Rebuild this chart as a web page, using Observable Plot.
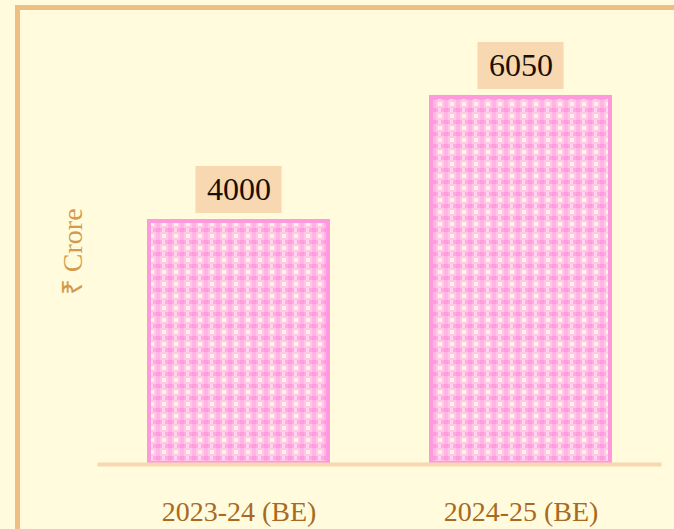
<!DOCTYPE html>
<html>
<head>
<meta charset="utf-8">
<script src="https://cdn.jsdelivr.net/npm/d3@7"></script>
<script src="https://cdn.jsdelivr.net/npm/@observablehq/plot@0.6"></script>
<style>
  html, body { margin: 0; padding: 0; background: #FFFBDC; }
  #wrap { position: relative; width: 674px; height: 529px; overflow: hidden; background: #FFFBDC; }
  #border { position: absolute; left: 15px; top: 5px; width: 700px; height: 600px;
            border-left: 5px solid #EFBF82; border-top: 5px solid #EFBF82; box-sizing: border-box; }
  #chart { position: absolute; left: 0; top: 0; }
</style>
</head>
<body>
<div id="wrap"><div id="border"></div><div id="chart"></div></div>
<script>
const categories = ["2023-24 (BE)", "2024-25 (BE)"];
const values = [4000, 6050];
const yLabel = "₹ Crore";

const data = categories.map((c, i) => ({cat: c, value: values[i], label: String(values[i])}));

const plot = Plot.plot({
  width: 674,
  height: 529,
  marginLeft: 97.5,
  marginRight: 12.5,
  marginTop: 39.5,
  marginBottom: 66,
  style: {background: "transparent", overflow: "visible"},
  x: {domain: categories, paddingInner: 0.35, paddingOuter: 0.175, axis: null},
  y: {domain: [0, 7000], axis: null},
  marks: [
    Plot.barY(data, {x: "cat", y: "value", fill: "url(#pinkcheck)", stroke: "#FF99DD", strokeWidth: 4, insetLeft: 2, insetRight: 2}),
    Plot.ruleY([0], {stroke: "#F8D8B0", strokeWidth: 4, dy: 1}),
    Plot.barY(data, {x: "cat", y1: "value", y2: "value", fill: "#F8D8B0", insetLeft: 48.5, insetRight: 48.5, insetTop: -55, insetBottom: 8}),
    Plot.text(data, {x: "cat", y: "value", text: "label", dy: -31.5, fontSize: 32, fill: "#1a0f05", fontFamily: "Liberation Serif", lineAnchor: "middle"}),
    Plot.text(data, {x: "cat", text: "cat", frameAnchor: "bottom", dy: 49, fontSize: 28, fill: "#A86A22", fontFamily: "Liberation Serif", lineAnchor: "middle"}),
    Plot.text([yLabel], {frameAnchor: "left", dx: -25, rotate: -90, fontSize: 28, fill: "#D39A4E", fontFamily: "Liberation Serif", textAnchor: "middle", lineAnchor: "middle"})
  ]
});

const svg = d3.select(plot);
const defs = svg.insert("defs", ":first-child");
const pat = defs.append("pattern").attr("id", "pinkcheck").attr("patternUnits", "userSpaceOnUse")
  .attr("width", 12).attr("height", 12);
pat.append("rect").attr("width", 12).attr("height", 12).attr("fill", "#FFC8EB");
pat.append("rect").attr("x", 0).attr("y", 0).attr("width", 12).attr("height", 4).attr("fill", "#FFAAE0");
pat.append("rect").attr("x", 0).attr("y", 0).attr("width", 4).attr("height", 12).attr("fill", "#FFB4E5");
pat.append("rect").attr("x", 0).attr("y", 0).attr("width", 4).attr("height", 4).attr("fill", "#FF9CDC");
pat.append("rect").attr("x", 6).attr("y", 6).attr("width", 4).attr("height", 4).attr("fill", "#FFF2DC");
pat.append("rect").attr("x", 6).attr("y", 0).attr("width", 3).attr("height", 4).attr("fill", "#FFD4EF");

document.getElementById("chart").appendChild(plot);
</script>
</body>
</html>
